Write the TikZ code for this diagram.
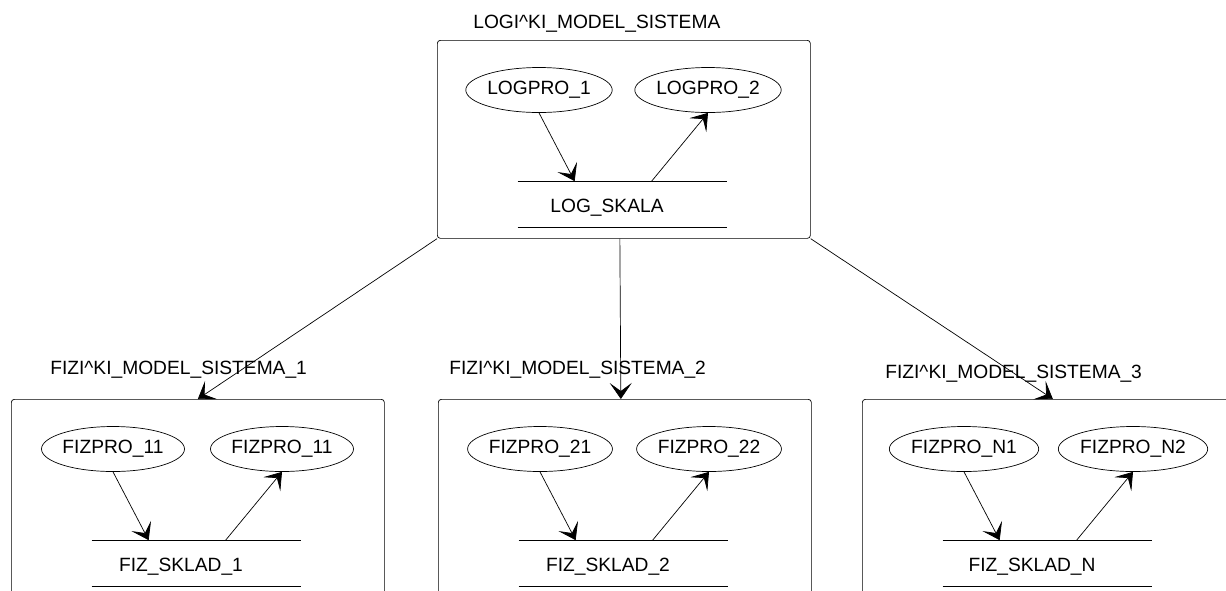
\documentclass[tikz,border=0pt]{standalone}
\usepackage{fontspec}
\setmainfont{Liberation Sans}
\usetikzlibrary{arrows.meta,shapes.geometric}
\newcommand{\mkmodel}[7]{\node[model] (#1) at (#2) {};
  \node[heading] (#1t) at ([shift={(#3)}]#1.north west) {#4};
  \node[proc] (#1a) at ([shift={(102,50)}]#1.north west) {#5};
  \node[proc] (#1b) at ([shift={(271,50)}]#1.north west) {#6};
  \node[store] (#1s) at ([shift={(185.5,164)}]#1.north west) {};
  \node (#1l) at ([shift={(-15.5,4)}]#1s.center) {#7};
  \draw (#1s.north west) -- (#1s.north east) (#1s.south west) -- (#1s.south east);
  \draw[flow] (#1a.south) -- ([xshift=57pt]#1s.north west);
  \draw[flow] ([xshift=134pt]#1s.north west) -- (#1b.south);}

\begin{document}
\begin{tikzpicture}[
    x=1pt, y=-1pt,
    line width=0.7pt,
    font=\fontsize{19.2}{23}\selectfont,
    model/.style={draw,rounded corners=3pt,minimum width=373pt,minimum height=198pt,inner sep=0pt,anchor=north west},
    heading/.style={anchor=base west,inner sep=0pt},
    proc/.style={draw,ellipse,minimum width=143pt,minimum height=45pt,inner sep=0pt},
    store/.style={minimum width=209pt,minimum height=45pt,inner sep=0pt},
    flow/.style={-{Stealth[length=16pt,width=22pt,inset=8pt]}}
    ]
    \useasboundingbox (0,0) rectangle (1226,590);
    \clip (0,0) rectangle (1226,590);
    % logical model
    \mkmodel{m0}{437,40}{36,-12}{LOGI\textasciicircum KI\_MODEL\_SISTEMA}{LOGPRO\_1}{LOGPRO\_2}{LOG\_SKALA}
    % physical models
    \mkmodel{m1}{11,399}{39,-25}{FIZI\textasciicircum KI\_MODEL\_SISTEMA\_1}{FIZPRO\_11}{FIZPRO\_11}{FIZ\_SKLAD\_1}
    \mkmodel{m2}{438,399}{11,-25}{FIZI\textasciicircum KI\_MODEL\_SISTEMA\_2}{FIZPRO\_21}{FIZPRO\_22}{FIZ\_SKLAD\_2}
    \mkmodel{m3}{862,399}{23,-21}{FIZI\textasciicircum KI\_MODEL\_SISTEMA\_3}{FIZPRO\_N1}{FIZPRO\_N2}{FIZ\_SKLAD\_N}
    \draw[flow] (m0.south west) -- (m1.north);
    \draw[flow] ([xshift=-4pt]m0.south) -- ([xshift=-4pt]m2.north);
    \draw[flow] (m0.south east) -- ([xshift=4pt]m3.north);
  \end{tikzpicture}
\end{document}
